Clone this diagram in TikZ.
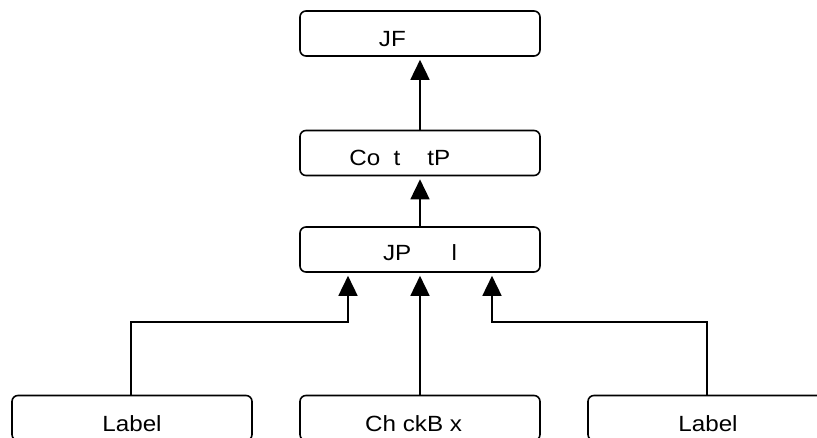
\documentclass[tikz,border=0pt]{standalone}
\usepackage{fontspec}
\newfontfamily\lblfont[FakeStretch=1.1]{Liberation Sans}
\usetikzlibrary{arrows.meta}
\begin{document}
\begin{tikzpicture}[x=1pt,y=-1pt,
  box/.style={draw, line width=1.6pt, rounded corners=6pt, minimum width=240pt, minimum height=45pt, inner sep=0pt},
  txt/.style={anchor=base, inner sep=0pt, font=\lblfont\fontsize{22}{26}\selectfont},
  arr/.style={line width=1.6pt, -{Triangle[width=19pt,length=20pt]}, shorten >=3pt}]
\clip (0,0) rectangle (817,437);
\fill[white] (0,0) rectangle (817,437);
% boxes
\node[box] (jf) at (420,33.5) {};
\node[box] (cp) at (420,153) {};
\node[box] (jp) at (420,249.5) {};
\node[box] (lb1) at (132,418) {};
\node[box] (cb) at (420,418) {};
\node[box] (lb2) at (708,418) {};
% texts
\node[txt] (tjf) at (420,46) {JF\phantom{rame}};
\node[txt] (tcp) at (420,165) {Co\phantom{n}t\phantom{en}tP\phantom{ane}};
\node[txt] (tjp) at (420,260) {JP\phantom{ane}l};
\node[txt] (tlb1) at (132,431) {Label};
\node[txt, anchor=base west] (tcb) at (365,431) {Ch ckB x};
\node[txt] (tlb2) at (708,431) {Label};
% connectors
\draw[arr] (cp.north) -- (jf.south);
\draw[arr] (jp.north) -- (cp.south);
\draw[arr] ([xshift=-1pt]lb1.north) -- ++(0,-73) -| ([xshift=-72pt]jp.south);
\draw[arr] (cb.north) -- (jp.south);
\draw[arr] ([xshift=-1pt]lb2.north) -- ++(0,-73) -| ([xshift=72pt]jp.south);
\end{tikzpicture}
\end{document}
